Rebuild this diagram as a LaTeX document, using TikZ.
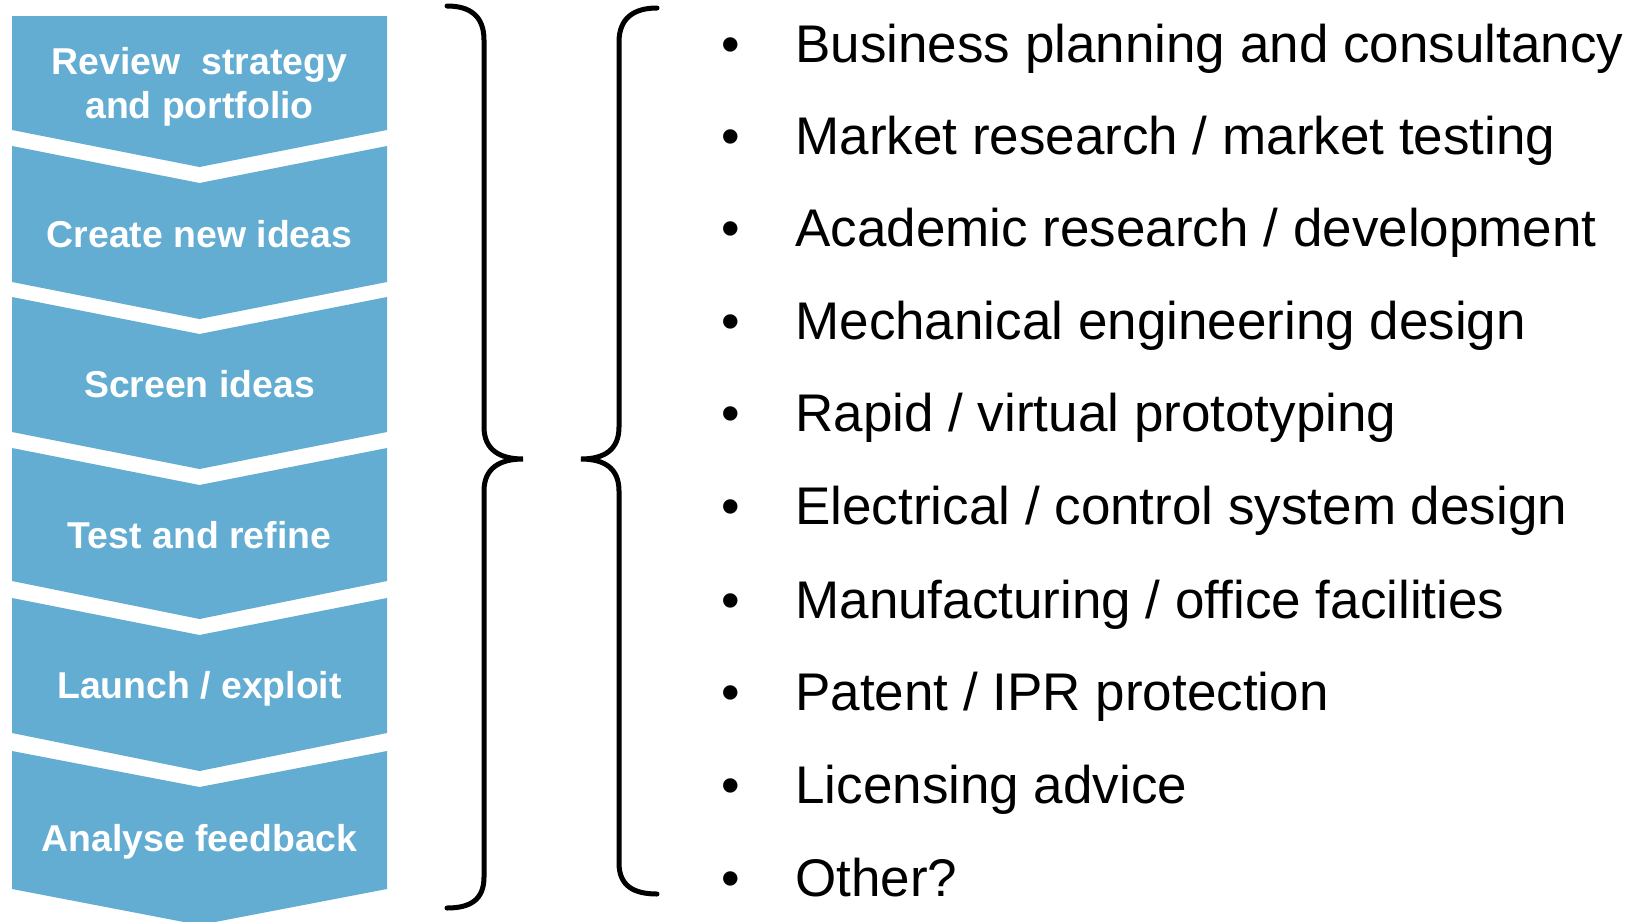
\documentclass[tikz,border=0pt]{standalone}
\usepackage{fontspec}
\setmainfont{Liberation Sans}
\definecolor{stageblue}{RGB}{99,173,211}
\begin{document}
\begin{tikzpicture}[x=0.5pt,y=-0.5pt]
  \tikzstyle{stage}=[fill=stageblue]
  \tikzstyle{stagetext}=[text=white, font=\fontsize{18.7}{22}\selectfont\bfseries, align=center, anchor=base, inner sep=0pt]
  \tikzstyle{dot}=[font=\fontsize{26.5}{30}\selectfont, anchor=base, inner sep=0pt]
  \tikzstyle{item}=[font=\fontsize{26.5}{30}\selectfont, anchor=base west, inner sep=0pt]
  \tikzstyle{curly}=[line width=2.5pt, line cap=round]

  \useasboundingbox (0,0) rectangle (1637,921);

  \fill[stage] (12,16) -- (387,16) -- (387,130) -- (199.5,167) -- (12,130) -- cycle;
  \fill[stage] (12,146) -- (199.5,183) -- (387,146) -- (387,282) -- (199.5,319) -- (12,282) -- cycle;
  \fill[stage] (12,297) -- (199.5,334) -- (387,297) -- (387,432) -- (199.5,469) -- (12,432) -- cycle;
  \fill[stage] (12,448) -- (199.5,485) -- (387,448) -- (387,581) -- (199.5,619) -- (12,581) -- cycle;
  \fill[stage] (12,598) -- (199.5,635) -- (387,598) -- (387,733) -- (199.5,771) -- (12,733) -- cycle;
  \fill[stage] (12,751) -- (199.5,787) -- (387,751) -- (387,889) -- (199.5,925) -- (12,889) -- cycle;

  \node[stagetext] (s1) at (199.5,118) {Review~ strategy\\and portfolio};
  \node[stagetext] (s2) at (199.5,247) {Create new ideas};
  \node[stagetext] (s3) at (199.5,397) {Screen ideas};
  \node[stagetext] (s4) at (199.5,548) {Test and refine};
  \node[stagetext] (s5) at (199.5,698) {Launch / exploit};
  \node[stagetext] (s6) at (199.5,851) {Analyse feedback};

  \draw[curly] (447,6) .. controls (470,6) and (484,16) .. (484,40) -- (484,427)
    .. controls (484,450) and (500,459) .. (523,459)
    .. controls (500,459) and (484,468) .. (484,491) -- (484,877)
    .. controls (484,900) and (470,908) .. (447,908);
  \draw[curly] (657,8) .. controls (634,8) and (619,18) .. (619,42) -- (619,427)
    .. controls (619,450) and (604,459) .. (581,459)
    .. controls (604,459) and (619,468) .. (619,491) -- (619,863)
    .. controls (619,886) and (634,894) .. (657,894);

  \node[dot] (b1) at (731,62) {\textbullet};
  \node[dot] (b2) at (731,154) {\textbullet};
  \node[dot] (b3) at (731,246) {\textbullet};
  \node[dot] (b4) at (731,339) {\textbullet};
  \node[dot] (b5) at (731,431) {\textbullet};
  \node[dot] (b6) at (731,524) {\textbullet};
  \node[dot] (b7) at (731,618) {\textbullet};
  \node[dot] (b8) at (731,710) {\textbullet};
  \node[dot] (b9) at (731,803) {\textbullet};
  \node[dot] (b10) at (731,896) {\textbullet};

  \node[item] (i1) at (795,62) {Business planning and consultancy};
  \node[item] (i2) at (795,154) {Market research / market testing};
  \node[item] (i3) at (795,246) {Academic research / development};
  \node[item] (i4) at (795,339) {Mechanical engineering design};
  \node[item] (i5) at (795,431) {Rapid / virtual prototyping};
  \node[item] (i6) at (795,524) {Electrical / control system design};
  \node[item] (i7) at (795,618) {Manufacturing / office facilities};
  \node[item] (i8) at (795,710) {Patent / IPR protection};
  \node[item] (i9) at (795,803) {Licensing advice};
  \node[item] (i10) at (795,896) {Other?};
\end{tikzpicture}
\end{document}
